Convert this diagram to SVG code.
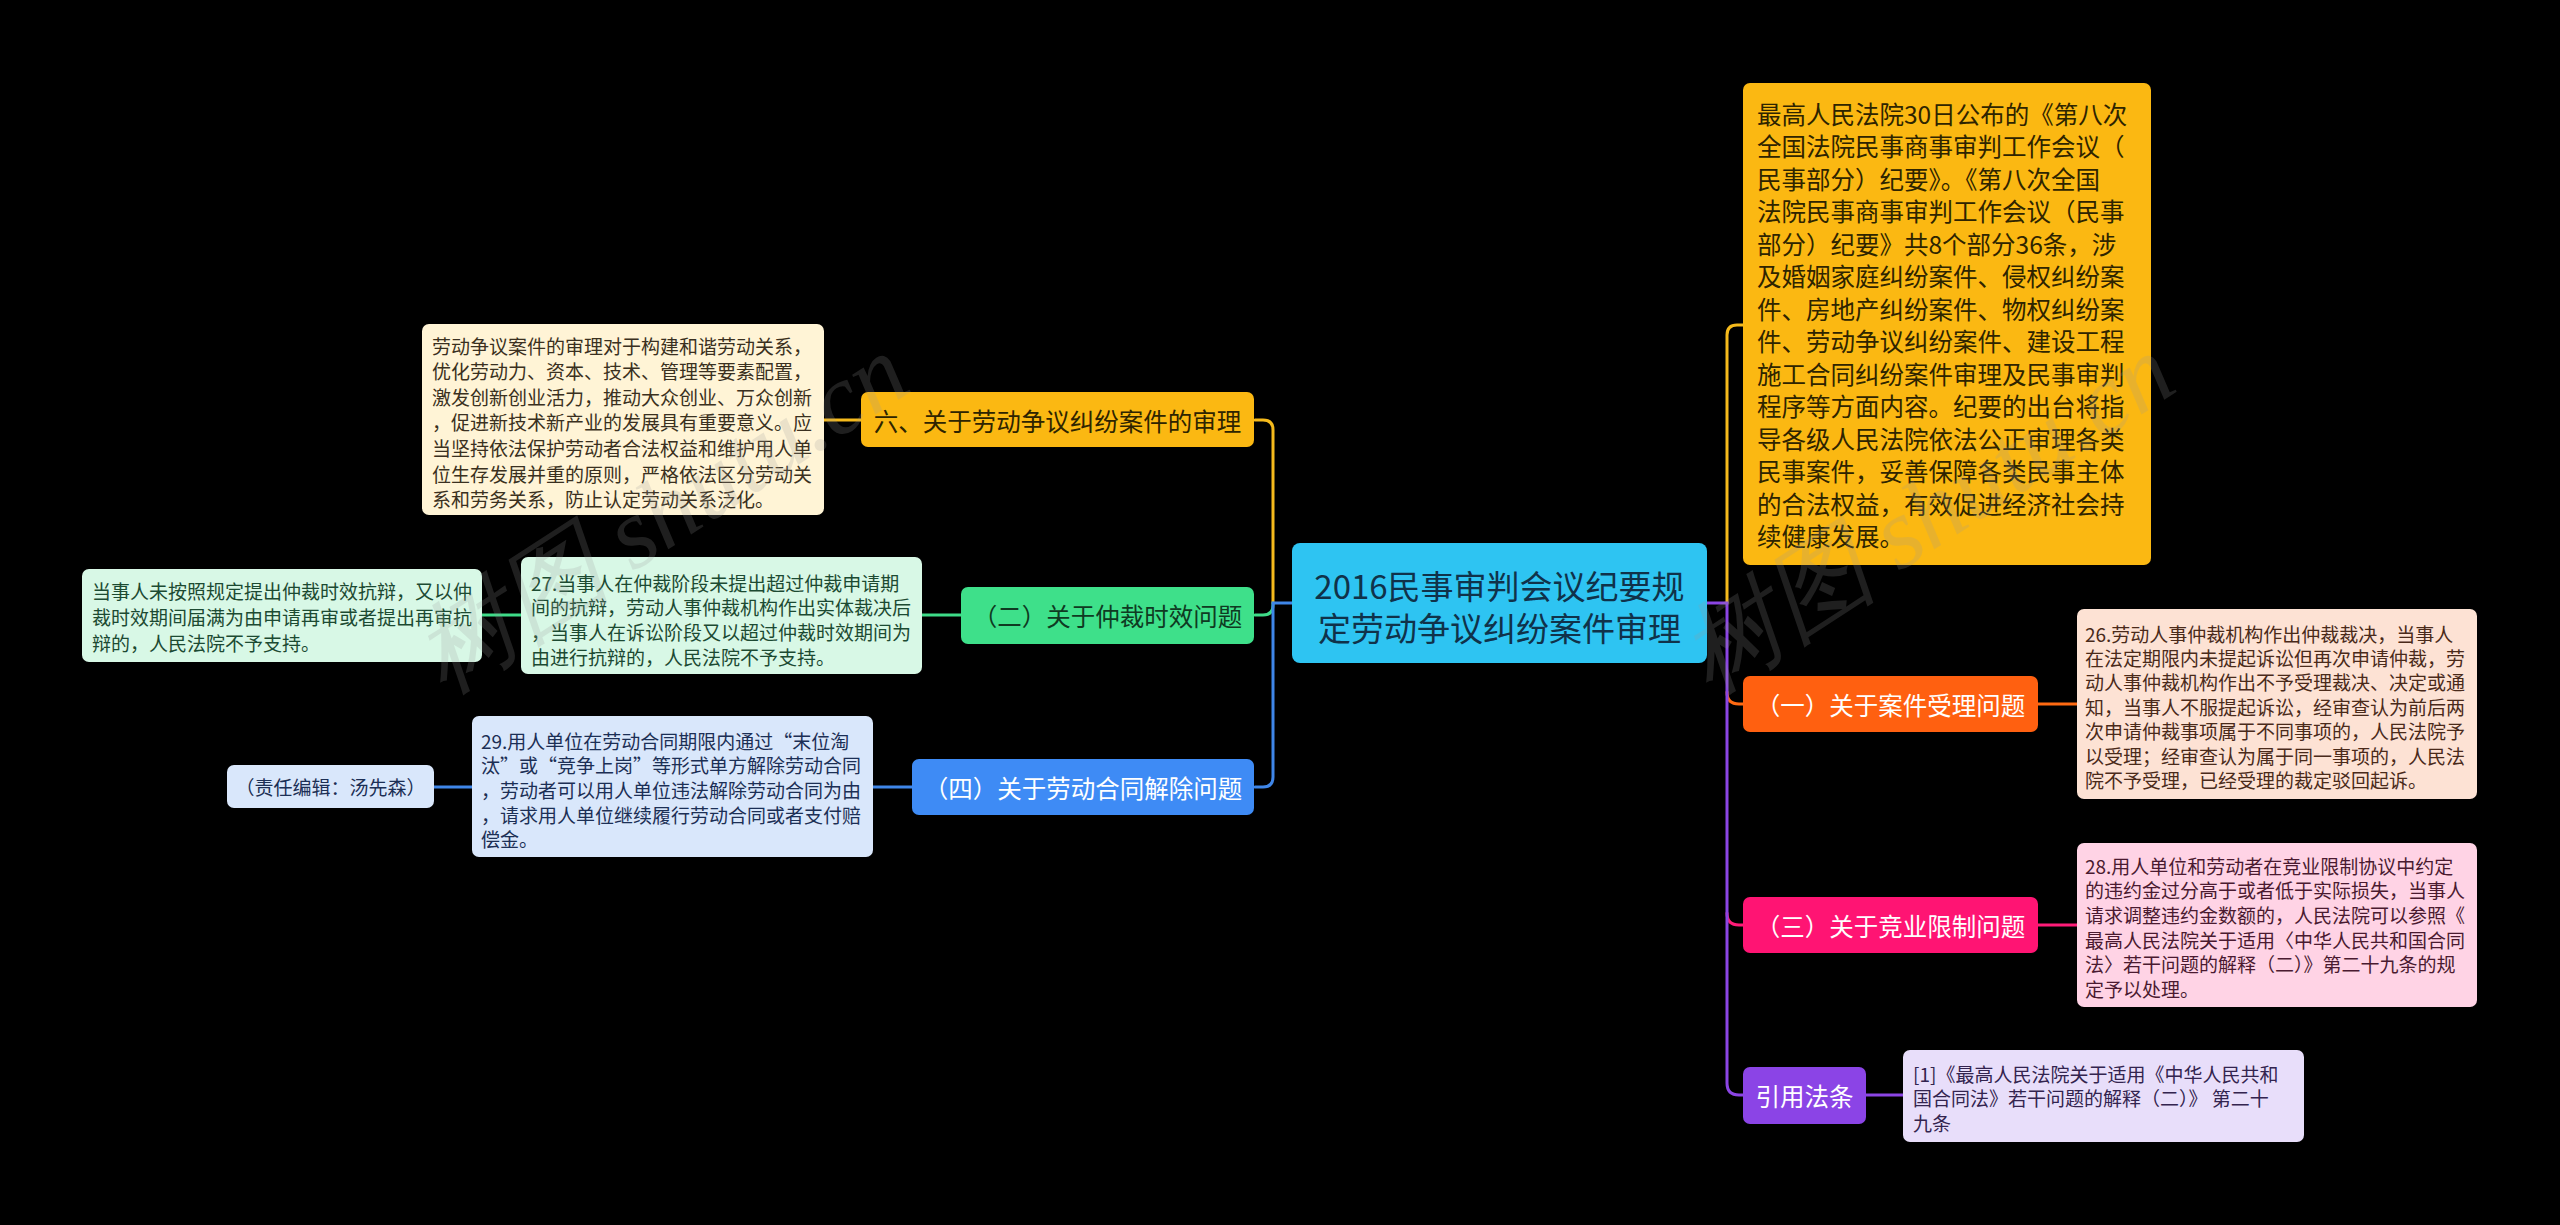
<svg xmlns="http://www.w3.org/2000/svg" width="2560" height="1225" viewBox="0 0 2560 1225">
<style>
text{font-family:"Noto Sans CJK SC","Noto Sans",sans-serif;dominant-baseline:central}
.root{font-size:33px;fill:#10324a;text-anchor:middle}
.main{font-size:24.5px;text-anchor:middle}
.big{font-size:24.5px;fill:#2e2400}
.leaf{font-size:19px}
.w{fill:#ffffff}
.ln{fill:none;stroke-width:3;stroke-linecap:round}
.wm{font-family:"Liberation Serif",serif;font-size:100px;fill:#9a9a9a;opacity:0.2;font-style:italic}
</style>
<rect x="0" y="0" width="2560" height="1225" fill="#000000"/>

<g id="connectors">
<path class="ln" stroke="#F5BA1C" d="M1273,603 V430 Q1273,420 1263,420 H1255"/>
<path class="ln" stroke="#3EDC88" d="M1273,603 V605 Q1273,615 1263,615 H1255"/>
<path class="ln" stroke="#3F86E8" d="M1292,603 H1273 V777 Q1273,787 1263,787 H1255"/>
<path class="ln" stroke="#F5BA1C" d="M824,420 H861"/>
<path class="ln" stroke="#3EDC88" d="M922,615 H961"/>
<path class="ln" stroke="#3EDC88" d="M482,615 H521"/>
<path class="ln" stroke="#3F86E8" d="M873,787 H912"/>
<path class="ln" stroke="#3F86E8" d="M434,787 H472"/>
<path class="ln" stroke="#F5BA1C" d="M1727,603 V335 Q1727,325 1737,325 H1743"/>
<path class="ln" stroke="#FF6A12" d="M1727,692 Q1727,704 1739,704 H1743"/>
<path class="ln" stroke="#FF1C78" d="M1727,913 Q1727,925 1739,925 H1743"/>
<path class="ln" stroke="#8B45E4" d="M1707,603 H1727 V1083 Q1727,1095 1739,1095 H1743"/>
<path class="ln" stroke="#FF6A12" d="M2038,704 H2077"/>
<path class="ln" stroke="#FF1C78" d="M2038,925 H2077"/>
<path class="ln" stroke="#8B45E4" d="M1866,1095 H1903"/>
</g>

<g id="root">
<rect x="1292" y="543" width="415" height="120" rx="8" fill="#2EC4F2"/>
<text class="root" x="1499.5" y="585">2016民事审判会议纪要规</text>
<text class="root" x="1499.5" y="627">定劳动争议纠纷案件审理</text>
</g>

<g id="summary">
<rect x="1743" y="83" width="408" height="482" rx="7" fill="#FBB812"/>
<text class="big" x="1757" y="113">最高人民法院30日公布的《第八次</text>
<text class="big" x="1757" y="145.5">全国法院民事商事审判工作会议（</text>
<text class="big" x="1757" y="178">民事部分）纪要》。《第八次全国</text>
<text class="big" x="1757" y="210.5">法院民事商事审判工作会议（民事</text>
<text class="big" x="1757" y="243">部分）纪要》共8个部分36条，涉</text>
<text class="big" x="1757" y="275.5">及婚姻家庭纠纷案件、侵权纠纷案</text>
<text class="big" x="1757" y="308">件、房地产纠纷案件、物权纠纷案</text>
<text class="big" x="1757" y="340.5">件、劳动争议纠纷案件、建设工程</text>
<text class="big" x="1757" y="373">施工合同纠纷案件审理及民事审判</text>
<text class="big" x="1757" y="405.5">程序等方面内容。纪要的出台将指</text>
<text class="big" x="1757" y="438">导各级人民法院依法公正审理各类</text>
<text class="big" x="1757" y="470.5">民事案件，妥善保障各类民事主体</text>
<text class="big" x="1757" y="503">的合法权益，有效促进经济社会持</text>
<text class="big" x="1757" y="535.5">续健康发展。</text>
</g>

<g id="topic6">
<rect x="861" y="392" width="393" height="55" rx="7" fill="#FBB812"/>
<text class="main" x="1057.5" y="420" fill="#2e2400">六、关于劳动争议纠纷案件的审理</text>
</g>
<g id="leaf6">
<rect x="422" y="324" width="402" height="191" rx="7" fill="#FFF4D6"/>
<text class="leaf" x="432" y="345" fill="#3a3020">劳动争议案件的审理对于构建和谐劳动关系，</text>
<text class="leaf" x="432" y="370.6" fill="#3a3020">优化劳动力、资本、技术、管理等要素配置，</text>
<text class="leaf" x="432" y="396.2" fill="#3a3020">激发创新创业活力，推动大众创业、万众创新</text>
<text class="leaf" x="432" y="421.8" fill="#3a3020">，促进新技术新产业的发展具有重要意义。应</text>
<text class="leaf" x="432" y="447.4" fill="#3a3020">当坚持依法保护劳动者合法权益和维护用人单</text>
<text class="leaf" x="432" y="473" fill="#3a3020">位生存发展并重的原则，严格依法区分劳动关</text>
<text class="leaf" x="432" y="498.6" fill="#3a3020">系和劳务关系，防止认定劳动关系泛化。</text>
</g>

<g id="topic2">
<rect x="961" y="587" width="293" height="57" rx="7" fill="#3EE08A"/>
<text class="main" x="1107.5" y="615.5" fill="#0f3a22">（二）关于仲裁时效问题</text>
</g>
<g id="leaf27">
<rect x="521" y="557" width="401" height="117" rx="7" fill="#D8F8E6"/>
<text class="leaf" x="531" y="582" fill="#1c4a32">27.当事人在仲裁阶段未提出超过仲裁申请期</text>
<text class="leaf" x="531" y="606.7" fill="#1c4a32">间的抗辩，劳动人事仲裁机构作出实体裁决后</text>
<text class="leaf" x="531" y="631.4" fill="#1c4a32">，当事人在诉讼阶段又以超过仲裁时效期间为</text>
<text class="leaf" x="531" y="656.1" fill="#1c4a32">由进行抗辩的，人民法院不予支持。</text>
</g>
<g id="leaf2b">
<rect x="82" y="569" width="400" height="93" rx="7" fill="#D8F8E6"/>
<text class="leaf" x="92" y="590" fill="#1c4a32">当事人未按照规定提出仲裁时效抗辩，又以仲</text>
<text class="leaf" x="92" y="616" fill="#1c4a32">裁时效期间届满为由申请再审或者提出再审抗</text>
<text class="leaf" x="92" y="642" fill="#1c4a32">辩的，人民法院不予支持。</text>
</g>

<g id="topic4">
<rect x="912" y="759" width="342" height="56" rx="7" fill="#3E8BF5"/>
<text class="main w" x="1083" y="787">（四）关于劳动合同解除问题</text>
</g>
<g id="leaf29">
<rect x="472" y="716" width="401" height="141" rx="7" fill="#D9E7FB"/>
<text class="leaf" x="481" y="740" fill="#1c2f55">29.用人单位在劳动合同期限内通过“末位淘</text>
<text class="leaf" x="481" y="764.7" fill="#1c2f55">汰”或“竞争上岗”等形式单方解除劳动合同</text>
<text class="leaf" x="481" y="789.4" fill="#1c2f55">，劳动者可以用人单位违法解除劳动合同为由</text>
<text class="leaf" x="481" y="814.1" fill="#1c2f55">，请求用人单位继续履行劳动合同或者支付赔</text>
<text class="leaf" x="481" y="838.8" fill="#1c2f55">偿金。</text>
</g>
<g id="editor">
<rect x="227" y="765" width="207" height="43" rx="7" fill="#D9E7FB"/>
<text class="leaf" x="330.5" y="786.5" fill="#1c2f55" text-anchor="middle">（责任编辑：汤先森）</text>
</g>

<g id="topic1">
<rect x="1743" y="676" width="295" height="56" rx="7" fill="#FF6010"/>
<text class="main w" x="1890.5" y="704">（一）关于案件受理问题</text>
</g>
<g id="leaf26">
<rect x="2077" y="609" width="400" height="190" rx="7" fill="#FDE2D4"/>
<text class="leaf" x="2085" y="633" fill="#4a2a1a">26.劳动人事仲裁机构作出仲裁裁决，当事人</text>
<text class="leaf" x="2085" y="657.4" fill="#4a2a1a">在法定期限内未提起诉讼但再次申请仲裁，劳</text>
<text class="leaf" x="2085" y="681.8" fill="#4a2a1a">动人事仲裁机构作出不予受理裁决、决定或通</text>
<text class="leaf" x="2085" y="706.2" fill="#4a2a1a">知，当事人不服提起诉讼，经审查认为前后两</text>
<text class="leaf" x="2085" y="730.6" fill="#4a2a1a">次申请仲裁事项属于不同事项的，人民法院予</text>
<text class="leaf" x="2085" y="755" fill="#4a2a1a">以受理；经审查认为属于同一事项的，人民法</text>
<text class="leaf" x="2085" y="779.4" fill="#4a2a1a">院不予受理，已经受理的裁定驳回起诉。</text>
</g>

<g id="topic3">
<rect x="1743" y="897" width="295" height="56" rx="7" fill="#FF1473"/>
<text class="main w" x="1890.5" y="925">（三）关于竞业限制问题</text>
</g>
<g id="leaf28">
<rect x="2077" y="843" width="400" height="164" rx="7" fill="#FFD3E5"/>
<text class="leaf" x="2085" y="865" fill="#4a1a30">28.用人单位和劳动者在竞业限制协议中约定</text>
<text class="leaf" x="2085" y="889.7" fill="#4a1a30">的违约金过分高于或者低于实际损失，当事人</text>
<text class="leaf" x="2085" y="914.4" fill="#4a1a30">请求调整违约金数额的，人民法院可以参照《</text>
<text class="leaf" x="2085" y="939.1" fill="#4a1a30">最高人民法院关于适用〈中华人民共和国合同</text>
<text class="leaf" x="2085" y="963.8" fill="#4a1a30">法〉若干问题的解释（二）》第二十九条的规</text>
<text class="leaf" x="2085" y="988.5" fill="#4a1a30">定予以处理。</text>
</g>

<g id="topicRef">
<rect x="1743" y="1067" width="123" height="57" rx="7" fill="#8B44E6"/>
<text class="main w" x="1804.5" y="1095.5">引用法条</text>
</g>
<g id="leafRef">
<rect x="1903" y="1050" width="401" height="92" rx="7" fill="#E8DEFA"/>
<text class="leaf" x="1913" y="1073" fill="#33244f">[1]《最高人民法院关于适用《中华人民共和</text>
<text class="leaf" x="1913" y="1097.5" fill="#33244f">国合同法》若干问题的解释（二）》 第二十</text>
<text class="leaf" x="1913" y="1122" fill="#33244f">九条</text>
</g>

<g id="watermark">
<text class="wm" x="661" y="514" text-anchor="middle" transform="rotate(-33 661 514)">树图 shutu.cn</text>
<text class="wm" x="1927" y="514" text-anchor="middle" transform="rotate(-33 1927 514)">树图 shutu.cn</text>
</g>
</svg>
